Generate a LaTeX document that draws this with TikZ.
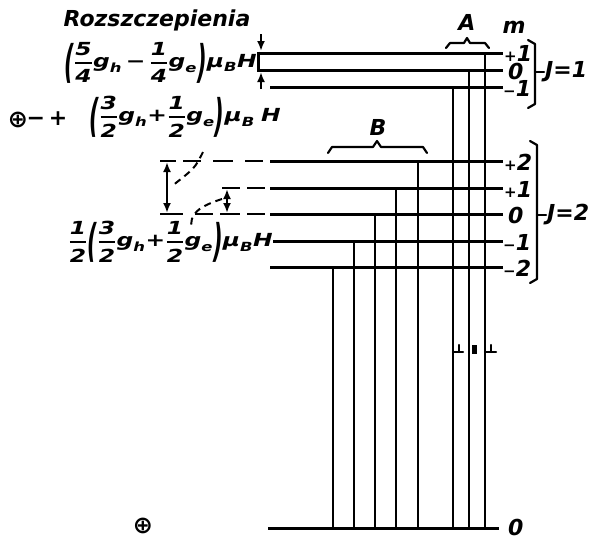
\documentclass[tikz,border=0pt]{standalone}
\usepackage{amsmath}
\usepackage{graphicx}
\usepackage{fontspec}
\setmainfont{DejaVu Sans}
\newfontfamily\symf{DejaVu Sans}
\usetikzlibrary{arrows.meta}
\newcommand\T[1]{\text{\bfseries\itshape #1}}
\newcommand\fr[2]{\genfrac{}{}{1.8pt}{0}{\T{#1}}{\T{#2}}}
\newcommand\lp{\vcenter{\hbox{\scalebox{0.9}[2.5]{\bfseries\itshape (}}}}
\newcommand\rp{\vcenter{\hbox{\scalebox{0.9}[2.5]{\bfseries\itshape )}}}}
\newcommand\sm[1]{{\fontsize{15}{15}\selectfont #1}}
\begin{document}
\begin{tikzpicture}[x=1pt,y=-1pt,
  lvl/.style={line width=3pt},
  vl/.style={line width=2.8pt},
  thin/.style={line width=2.2pt, line cap=round, line join=round},
  dsh/.style={line width=2.8pt},
  dcurve/.style={line width=2pt, dash pattern=on 7pt off 5pt},
  arr/.style={line width=2.2pt, {Latex[length=10pt,width=8pt]}-{Latex[length=10pt,width=8pt]}},
  sarr/.style={line width=2.2pt, -{Latex[length=10pt,width=8pt]}},
  lbl/.style={font=\fontsize{22}{25}\selectfont\bfseries\itshape, inner sep=0pt},
  sym/.style={font=\fontsize{24}{24}\selectfont\symf\bfseries, inner sep=0pt},
  fml/.style={font=\fontsize{18}{21}\selectfont, inner sep=0pt}
]
\useasboundingbox (0,0) rectangle (598,539);

% ---- level coordinates ----
\coordinate (a1) at (503,53);  \coordinate (a0) at (503,70);  \coordinate (am) at (503,87);
\coordinate (b2) at (503,161); \coordinate (b1) at (503,188); \coordinate (b0) at (503,214);
\coordinate (bm) at (503,241); \coordinate (bmm) at (503,267);
\coordinate (g) at (499,528);

% ---- J=1 levels ----
\draw[lvl] (258,53) -- (a1);
\draw[lvl] (258,70) -- (a0);
\draw[lvl] (270,87) -- (am);
\draw[lvl] (258,51.5) -- (258,71.5);

% ---- J=2 levels ----
\draw[lvl] (270,161) -- (b2);
\draw[lvl] (270,188) -- (b1);
\draw[lvl] (270,214) -- (b0);
\draw[lvl] (273,241) -- (bm);
\draw[lvl] (270,267) -- (bmm);
% dashed extensions
\foreach \a/\b in {160/176,183/201,213/233,245/263} \draw[dsh] (\a,161) -- (\b,161);
\foreach \a/\b in {222/240,247/265} \draw[dsh] (\a,188) -- (\b,188);
\foreach \a/\b in {160/183,195/213,220/240,247/265} \draw[dsh] (\a,214) -- (\b,214);

% ---- ground level ----
\draw[lvl] (268,528) -- (g);

% ---- transitions A ----
\draw[vl] (453,87) -- (453,528);
\draw[vl] (469,70) -- (469,528);
\draw[vl] (485,53) -- (485,528);
% ---- transitions B ----
\draw[vl] (333,267) -- (333,528);
\draw[vl] (354,241) -- (354,528);
\draw[vl] (375,214) -- (375,528);
\draw[vl] (396,188) -- (396,528);
\draw[vl] (418,161) -- (418,528);

% small marks
\draw[thin] (453,352) -- (463,352) (459,352) -- (459,345);
\draw[thin] (485,352) -- (496,352) (491,352) -- (491,345);
\fill (472,345) rectangle (477,354);

% ---- braces ----
\draw[thin] (446,48) -- (450,43) -- (464,43) -- (467,38) -- (470,43) -- (485,43) -- (489,48);
\draw[thin] (328,153) -- (332,147) -- (373,147) -- (377,141) -- (381,147) -- (423,147) -- (427,153);
\node[lbl] (A) at (467,22) {A};
\node[lbl] (B) at (378,127) {B};
\node[lbl] (m) at (514,27) {m};

% ---- J brackets ----
\draw[thin] (528,40) -- (535,44) -- (535,104) -- (528,108);
\draw[thin] (535,72) -- (544,72);
\node[lbl, anchor=west] (J1) at (545,72) {J=1};
\draw[thin] (530,141) -- (537,145) -- (537,279) -- (530,283);
\draw[thin] (537,215) -- (546,215);
\node[lbl, anchor=west] (J2) at (547,215) {J=2};

% ---- m labels ----
\node[lbl, anchor=west] (m1) at (504,53) {\sm{+}1};
\node[lbl, anchor=west] (m0) at (508,71) {0};
\node[lbl, anchor=west] (mm) at (503,88) {\sm{−}1};
\node[lbl, anchor=west] (n2) at (504,162) {\sm{+}2};
\node[lbl, anchor=west] (n1) at (504,189) {\sm{+}1};
\node[lbl, anchor=west] (n0) at (508,215) {0};
\node[lbl, anchor=west] (nm) at (503,242) {\sm{−}1};
\node[lbl, anchor=west] (nmm) at (503,268) {\sm{−}2};
\node[lbl, anchor=west] (g0) at (508,527) {0};

% ---- splitting arrows ----
\coordinate (t1) at (261,34);
\coordinate (t2) at (261,89);
\draw[sarr] (t1) -- (261,51);
\draw[sarr] (t2) -- (261,72);
\draw[arr] (167,162) -- (167,213);
\draw[arr] (227,189) -- (227,213);
\draw[dcurve] (203,152) .. controls (195,168) .. (172,186);
\draw[dcurve] (222,199) .. controls (200,206) and (188,214) .. (192,229);

% ---- texts ----
\node[lbl] (title) at (157,20) {Rozszczepienia};
\node[fml, anchor=east] (f1) at (257,63)
  {\scalebox{1.3}[1]{$\lp\fr{5}{4}\T{g}_{\T{h}}\,\T{−}\,\fr{1}{4}\T{g}_{\T{e}}\rp\T{μ}_{\T{B}}\T{H}$}};
\node[sym] (o1) at (18,120) {⊕};
\node[lbl] (pm) at (47,119) {−\hspace{4pt}+};
\node[fml, anchor=east] (f2) at (281,117)
  {\scalebox{1.3}[1]{$\lp\fr{3}{2}\T{g}_{\T{h}}\T{+}\fr{1}{2}\T{g}_{\T{e}}\rp\T{μ}_{\T{B}}\;\T{H}$}};
\node[fml, anchor=east] (f3) at (273,242)
  {\scalebox{1.3}[1]{$\fr{1}{2}\lp\fr{3}{2}\T{g}_{\T{h}}\T{+}\fr{1}{2}\T{g}_{\T{e}}\rp\T{μ}_{\T{B}}\T{H}$}};
\node[sym] (o2) at (143,526) {⊕};
\end{tikzpicture}
\end{document}
